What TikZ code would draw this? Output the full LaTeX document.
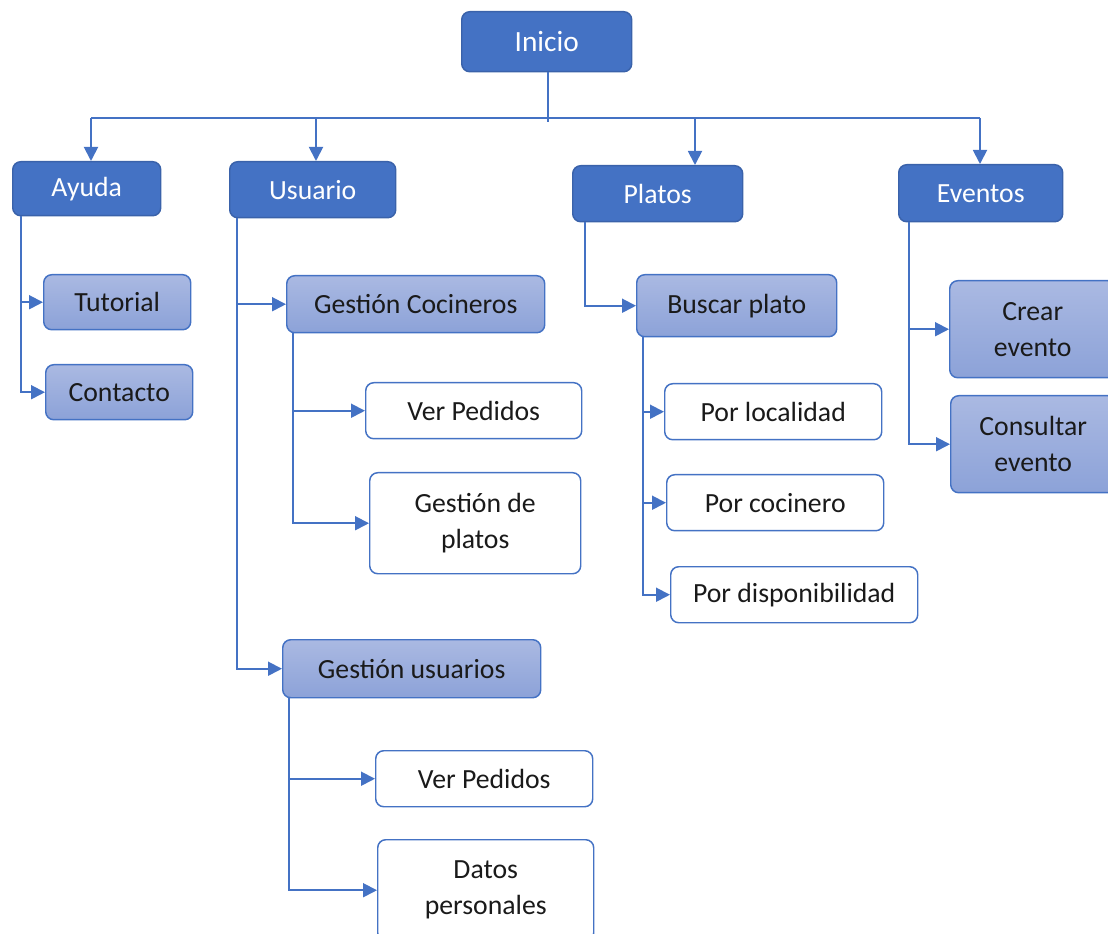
\documentclass[tikz,border=0pt]{standalone}
\usepackage{fontspec}
\setmainfont{Carlito}
\usetikzlibrary{arrows.meta,calc}
\definecolor{accent}{HTML}{4472C4}
\definecolor{accentdark}{HTML}{3A62AA}
\definecolor{lighttop}{HTML}{AAB9E2}
\definecolor{lightbot}{HTML}{8CA2D8}
\definecolor{ink}{HTML}{1A1A1A}

\begin{document}
\begin{tikzpicture}[x=0.75pt,y=-0.75pt,
  pos/.style n args={4}{anchor=north west, at={(#1,#2)},
    minimum width={(#3)*0.75pt}, minimum height={(#4)*0.75pt}},
  base/.style={rounded corners=6pt, inner sep=0pt, align=center,
    font=\fontsize{20.8}{27}\selectfont, line width=1.1pt},
  topbox/.style={base, fill=accent, draw=accentdark, text=white},
  midbox/.style={base, top color=lighttop, bottom color=lightbot, draw=accent, text=ink},
  leafbox/.style={base, fill=white, draw=accent, text=ink},
  conn/.style={draw=accent, line width=1.4pt},
  arr/.style={conn, -{Triangle[length=10.5pt,width=10.5pt]}}]

\useasboundingbox (0,0) rectangle (1108,934);

% root and first level
\node[topbox, pos={461}{11}{170}{60}, font=\fontsize{22}{27}\selectfont] (inicio) {Inicio};
\node[topbox, pos={12}{161}{148}{54}] (ayuda) {Ayuda};
\node[topbox, pos={229}{161}{166}{56}] (usuario) {Usuario};
\node[topbox, pos={572}{165}{170}{56}] (platos) {Platos};
\node[topbox, pos={898}{164}{164}{57}] (eventos) {Eventos};

% Ayuda
\node[midbox, pos={43}{274}{147}{55}] (tutorial) {Tutorial};
\node[midbox, pos={45}{364}{147}{55}] (contacto) {Contacto};

% Usuario
\node[midbox, pos={286}{275}{258}{57}] (gcoc) {Gestión Cocineros};
\node[leafbox, pos={365}{382}{216}{56}] (verped1) {Ver Pedidos};
\node[leafbox, pos={369}{472}{211}{101}] (gplatos) {Gestión de\\platos};
\node[midbox, pos={282}{639}{258}{58}] (gusu) {Gestión usuarios};
\node[leafbox, pos={375}{750}{217}{56}] (verped2) {Ver Pedidos};
\node[leafbox, pos={377}{839}{216}{101}] (datos) {Datos\\personales};

% Platos
\node[midbox, pos={636}{274}{200}{62}] (buscar) {Buscar plato};
\node[leafbox, pos={664}{383}{217}{56}] (local) {Por localidad};
\node[leafbox, pos={666}{474}{217}{56}] (cocin) {Por cocinero};
\node[leafbox, pos={670}{566}{247}{56}] (dispo) {Por disponibilidad};

% Eventos
\node[midbox, pos={949}{280}{166}{97}] (crear) {Crear\\evento};
\node[midbox, pos={950}{395}{165}{97}] (consultar) {Consultar\\evento};

% root bus
\coordinate (bus) at (548,118);
\coordinate (dAyuda) at (91,118);
\coordinate (dUsuario) at (316,118);
\coordinate (dPlatos) at (695,118);
\coordinate (dEventos) at (980,118);
\draw[conn] (bus |- inicio.south) -- ($(bus)+(0,4)$);
\draw[conn] (dAyuda) -- (dEventos);
\draw[arr] (dAyuda) -- (dAyuda |- ayuda.north);
\draw[arr] (dUsuario) -- (dUsuario |- usuario.north);
\draw[arr] (dPlatos) -- (dPlatos |- platos.north);
\draw[arr] (dEventos) -- (dEventos |- eventos.north);

% side branches
\draw[arr] ($(ayuda.south west)+(9,0)$) |- (tutorial.west);
\draw[arr] ($(ayuda.south west)+(9,0)$) |- (contacto.west);

\draw[arr] ($(usuario.south west)+(8,0)$) |- (gcoc.west);
\draw[arr] ($(usuario.south west)+(8,0)$) |- (gusu.west);

\draw[arr] ($(gcoc.south west)+(7,0)$) |- (verped1.west);
\draw[arr] ($(gcoc.south west)+(7,0)$) |- (gplatos.west);

\draw[arr] ($(gusu.south west)+(7,0)$) |- (verped2.west);
\draw[arr] ($(gusu.south west)+(7,0)$) |- (datos.west);

\draw[arr] ($(platos.south west)+(13,0)$) |- (buscar.west);

\draw[arr] ($(buscar.south west)+(7,0)$) |- (local.west);
\draw[arr] ($(buscar.south west)+(7,0)$) |- (cocin.west);
\draw[arr] ($(buscar.south west)+(7,0)$) |- (dispo.west);

\draw[arr] ($(eventos.south west)+(11,0)$) |- (crear.west);
\draw[arr] ($(eventos.south west)+(11,0)$) |- (consultar.west);

\end{tikzpicture}
\end{document}
